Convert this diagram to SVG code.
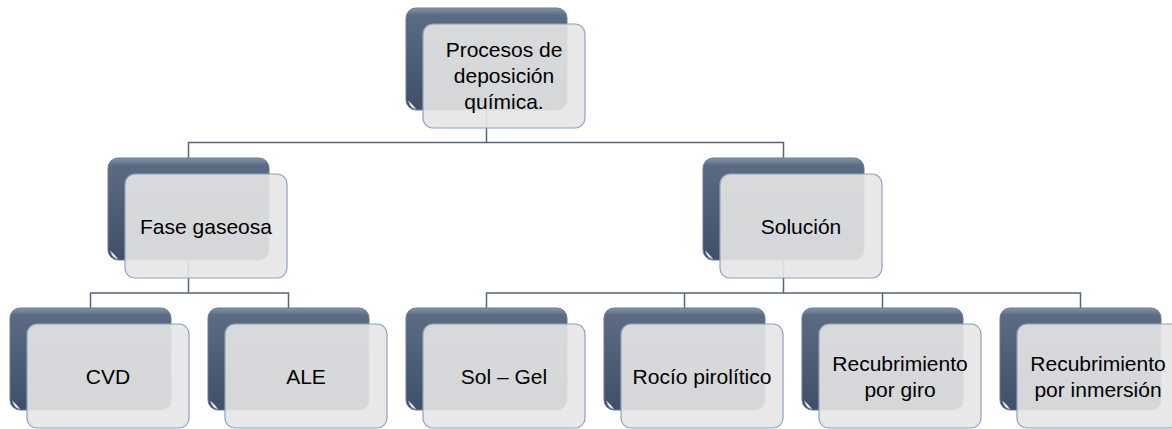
<svg xmlns="http://www.w3.org/2000/svg" width="1172" height="429" viewBox="0 0 1172 429">
<defs>
<linearGradient id="dk" x1="0" y1="0" x2="0" y2="1">
<stop offset="0" stop-color="#8494aa"/>
<stop offset="0.07" stop-color="#5a6b83"/>
<stop offset="0.5" stop-color="#4d5e76"/>
<stop offset="1" stop-color="#3e4f67"/>
</linearGradient>
<g id="card">
<rect class="dark" x="0" y="0" width="161" height="102" rx="10"/>
<path class="curl" d="M2.5 93 Q4 100 10 101 Q6 96 2.5 93 Z"/>
<rect class="light" x="17" y="16" width="162" height="104" rx="10"/>
</g>
</defs>
<style>
.dark{fill:url(#dk);stroke:#6b7b92;stroke-width:1}
.curl{fill:#ffffff;stroke:#9aa6b6;stroke-width:0.6}
.light{fill:#e5e5e5;fill-opacity:0.9;stroke:#8fa3bd;stroke-width:1.2}
.conn{fill:none;stroke:#56667c;stroke-width:1.5}
text{font-family:"Liberation Sans",Arial,sans-serif;font-size:21px;fill:#000000;text-anchor:middle}
</style>
<rect width="1172" height="429" fill="#ffffff"/>
<g id="connectors">
<path class="conn" d="M486.5 110 V142.5 M188.5 158 V142.5 H783.5 V158"/>
<path class="conn" d="M188.5 260 V293 M90.5 308 V293 H288.5 V308"/>
<path class="conn" d="M783.5 260 V293 M486.5 308 V293 H1080.5 V308 M684.5 293 V308 M882.5 293 V308"/>
</g>
<g id="n-procesos">
<use href="#card" x="406" y="8"/>
<text x="504" y="57">Procesos de</text>
<text x="504" y="83">deposición</text>
<text x="504" y="109">química.</text>
</g>
<g id="n-fase">
<use href="#card" x="108" y="158"/>
<text x="206" y="233.5">Fase gaseosa</text>
</g>
<g id="n-solucion">
<use href="#card" x="703" y="158"/>
<text x="801" y="233.5">Solución</text>
</g>
<g id="n-cvd">
<use href="#card" x="10" y="308"/>
<text x="108" y="383.5">CVD</text>
</g>
<g id="n-ale">
<use href="#card" x="208" y="308"/>
<text x="306" y="383.5">ALE</text>
</g>
<g id="n-solgel">
<use href="#card" x="406" y="308"/>
<text x="504" y="383.5">Sol – Gel</text>
</g>
<g id="n-rocio">
<use href="#card" x="604" y="308"/>
<text x="702" y="383.5">Rocío pirolítico</text>
</g>
<g id="n-giro">
<use href="#card" x="802" y="308"/>
<text x="900" y="370.5">Recubrimiento</text>
<text x="900" y="396.5">por giro</text>
</g>
<g id="n-inmersion">
<use href="#card" x="1000" y="308"/>
<text x="1098" y="370.5">Recubrimiento</text>
<text x="1098" y="396.5">por inmersión</text>
</g>
</svg>
